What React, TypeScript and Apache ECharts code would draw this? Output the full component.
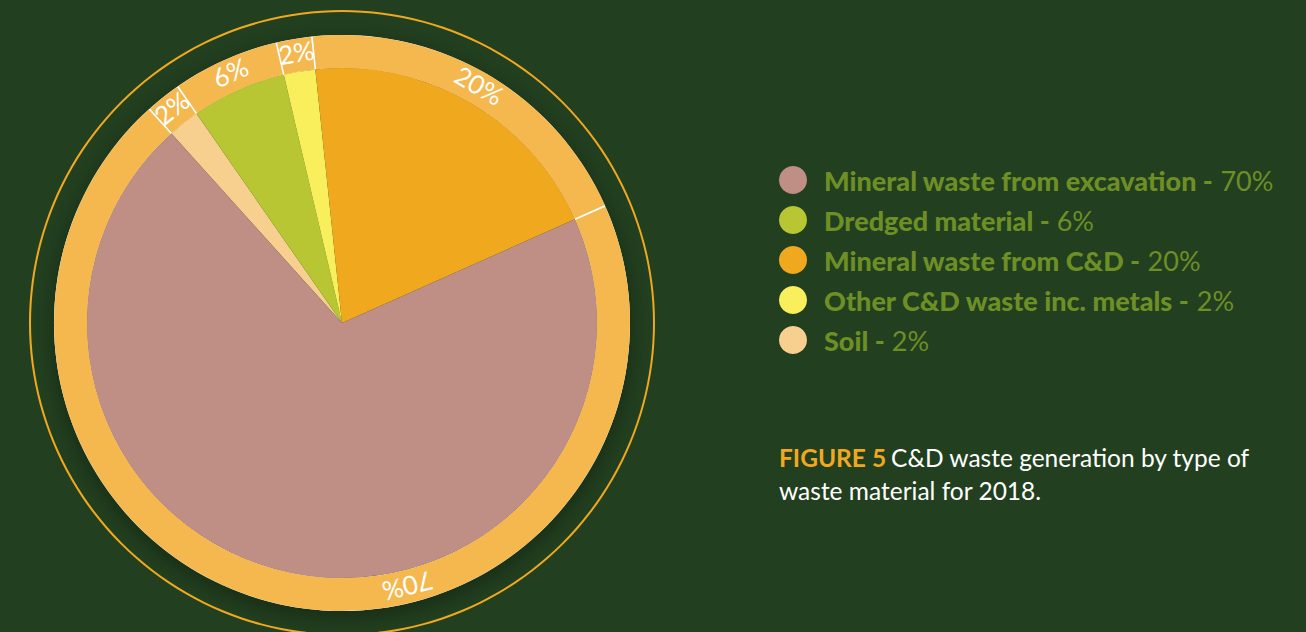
import React, { useEffect, useRef } from 'react';
import * as echarts from 'echarts';

// ---- data ----
const categories = [
  'Mineral waste from excavation',
  'Dredged material',
  'Mineral waste from C&D',
  'Other C&D waste inc. metals',
  'Soil',
];
const values = [70, 6, 20, 2, 2];
const colors = ['#bf8e84', '#b8c634', '#f0a81f', '#f9ee5b', '#f7cf8e'];
// clockwise drawing order of the slices, starting at the upper left
const pieOrder = [4, 1, 3, 2, 0];
const captionBold = 'FIGURE 5';
const captionLines = ['C&D waste generation by type of', 'waste material for 2018.'];

// ---- layout / style ----
const BG = '#22401f';
const RING = '#f5b84f';
const TEXT_GREEN = '#6d8f26';
const CENTER = [342, 323];
const PIE_R = 255;
const RING_R = 288;
const OUTLINE_R = 312;
const START_ANGLE = 132;
const BOTTOM_LABEL_ANGLE = -76; // degrees, where the big slice's ring label sits

export default function App() {
  const ref = useRef<HTMLDivElement>(null);

  useEffect(() => {
    document.body.style.margin = '0';
    document.body.style.background = BG;
    const chart = echarts.init(ref.current!, null, { renderer: 'svg' });

    const pieData = pieOrder.map((i) => ({
      name: categories[i],
      value: values[i],
      itemStyle: { color: colors[i] },
    }));

    const ringData = pieOrder.map((i) => ({
      name: categories[i],
      value: values[i],
      label: i === 0 ? { rotate: BOTTOM_LABEL_ANGLE - 90 } : {},
    }));

    const labelR = (PIE_R + RING_R) / 2;
    const bigIdx = pieOrder.indexOf(0);

    chart.setOption({
      animation: false,
      backgroundColor: BG,
      title: {
        left: 779,
        top: 441,
        padding: 0,
        text:
          `{o|${captionBold}} {w|${captionLines[0]}}\n{w|${captionLines[1]}}`,
        textStyle: {
          fontWeight: 'normal',
          rich: {
            o: { fontFamily: 'Lato', fontWeight: 'bold', fontSize: 24.5, color: '#f0a81f', lineHeight: 33 },
            w: { fontFamily: 'Lato', fontWeight: 'normal', fontSize: 24.5, color: '#ffffff', lineHeight: 33 },
          },
        },
      },
      legend: {
        orient: 'vertical',
        left: 779,
        top: 166,
        padding: 0,
        icon: 'circle',
        itemWidth: 28,
        itemHeight: 28,
        itemGap: 12,
        selectedMode: false,
        data: categories.map((c, i) => ({ name: c, itemStyle: { color: colors[i] } })),
        formatter: (name: string) =>
          `{b|${name} -}{r| ${values[categories.indexOf(name)]}%}`,
        textStyle: {
          padding: [0, 0, 0, 12],
          rich: {
            b: { fontFamily: 'Lato', fontWeight: 900, fontSize: 27, lineHeight: 28, color: TEXT_GREEN },
            r: { fontFamily: 'Lato', fontWeight: 'normal', fontSize: 27, lineHeight: 28, color: TEXT_GREEN },
          },
        },
      },
      series: [
        {
          type: 'pie',
          z: 3,
          center: CENTER,
          radius: [0, PIE_R],
          startAngle: START_ANGLE,
          clockwise: true,
          silent: true,
          label: { show: false },
          labelLine: { show: false },
          emphasis: { disabled: true },
          data: pieData,
        },
        {
          // white base under the ring, visible through the gaps as separators
          type: 'pie',
          z: 1,
          center: CENTER,
          radius: [PIE_R, RING_R],
          silent: true,
          label: { show: false },
          labelLine: { show: false },
          emphasis: { disabled: true },
          itemStyle: {
            color: '#ffffff',
            shadowBlur: 24,
            shadowColor: 'rgba(0,0,0,0.35)',
            shadowOffsetY: 6,
          },
          data: [{ value: 1 }],
        },
        {
          type: 'pie',
          z: 2,
          center: CENTER,
          radius: [PIE_R, RING_R],
          startAngle: START_ANGLE,
          clockwise: true,
          padAngle: 0.35,
          silent: true,
          avoidLabelOverlap: false,
          emphasis: { disabled: true },
          itemStyle: { color: RING },
          label: {
            show: true,
            position: 'inside',
            rotate: 'tangential',
            color: '#ffffff',
            fontFamily: 'Lato',
            fontSize: 26,
            formatter: (p: any) => `${p.value}%`,
          },
          labelLine: { show: false },
          labelLayout: (p: any) => {
            if (p.dataIndex !== bigIdx) return {};
            const a = (BOTTOM_LABEL_ANGLE * Math.PI) / 180;
            return {
              x: CENTER[0] + labelR * Math.cos(a),
              y: CENTER[1] - labelR * Math.sin(a),
            };
          },
          data: ringData,
        },
        {
          type: 'pie',
          z: 1,
          center: CENTER,
          radius: [OUTLINE_R - 1, OUTLINE_R + 1],
          silent: true,
          label: { show: false },
          labelLine: { show: false },
          emphasis: { disabled: true },
          itemStyle: { color: '#f0a81f' },
          data: [{ value: 1 }],
        },
      ],
    });

    return () => chart.dispose();
  }, []);

  return (
    <div
      ref={ref}
      style={{ position: 'fixed', left: 0, top: 0, width: 1306, height: 632 }}
    />
  );
}
